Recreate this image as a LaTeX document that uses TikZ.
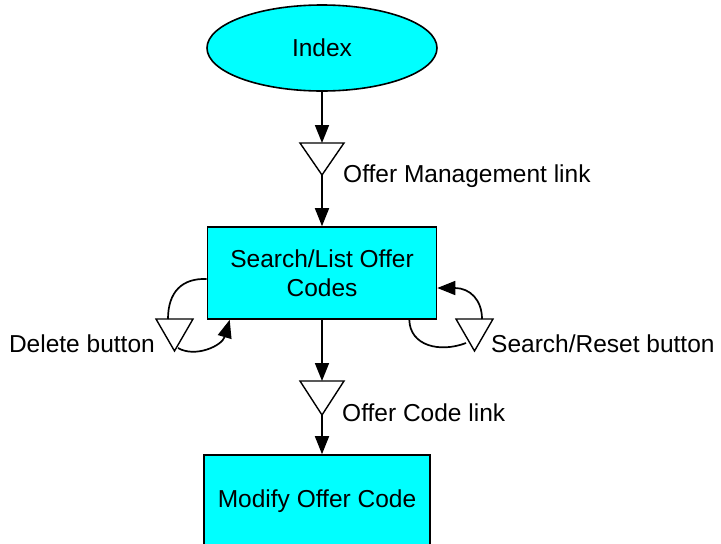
\documentclass[tikz,border=0pt]{standalone}
\usepackage{fontspec}
\setmainfont{Liberation Sans}
\usetikzlibrary{shapes.geometric,arrows.meta}
\definecolor{aqua}{RGB}{0,255,255}
\begin{document}
\begin{tikzpicture}[x=1pt,y=-1pt,
  every node/.style={font=\fontsize{24.5}{29}\selectfont},
  pagebox/.style={draw=black, line width=1.6pt, fill=aqua, inner sep=0pt, align=center},
  startnode/.style={ellipse, draw=black, line width=1.6pt, fill=aqua, inner sep=0pt},
  trihold/.style={inner sep=0pt, outer sep=0pt},
  tri/.style={draw=black, line width=1.4pt, line join=miter, fill=white},
  lbl/.style={inner sep=0pt},
  conn/.style={draw=black, line width=1.7pt},
  arr/.style={conn, -{Triangle[length=18pt,width=14pt]}}
]
\useasboundingbox (0,0) rectangle (721,544);

% nodes
\node[startnode, minimum width=230pt, minimum height=86pt] (index) at (322,48) {Index};
\node[pagebox, minimum width=229pt, minimum height=92pt] (search) at (322,273) {Search/List Offer\\Codes};
\node[pagebox, minimum width=226pt, minimum height=92pt] (modify) at (317,501) {Modify Offer Code};

% triangle holders
\node[trihold, minimum width=44pt, minimum height=32pt] (t1) at (322,159) {};
\node[trihold, minimum width=44pt, minimum height=34pt] (t2) at (322,398) {};
\node[trihold, minimum width=37pt, minimum height=32pt] (t3) at (174.5,335) {};
\node[trihold, minimum width=37pt, minimum height=32pt] (t4) at (474.5,335) {};

\foreach \t in {t1,t2,t3,t4}{
  \draw[tri] (\t.north west) -- (\t.north east) -- (\t.south) -- cycle;
}

% labels
\node[lbl, anchor=base west] (l1) at (343,182) {Offer Management link};
\node[lbl, anchor=base west] (l2) at (342,421) {Offer Code link};
\node[lbl, anchor=base east] (l3) at (155,352) {Delete button};
\node[lbl, anchor=base west] (l4) at (491,352) {Search/Reset button};

% main flow
\draw[arr] (index.south) -- (t1.north);
\draw[arr] (t1.south) -- (search.north);
\draw[arr] (search.south) -- (t2.north);
\draw[arr] (t2.south) -- (t2.south |- modify.north);

% delete loop
\coordinate (dOut) at ([yshift=-6pt]search.west);
\coordinate (dIn) at ([xshift=-6.5pt]t3.north);
\coordinate (dBack) at ([xshift=3.5pt,yshift=3pt]t3.south);
\coordinate (dTip) at ([xshift=23pt]search.south west);
\draw[conn] (dOut) .. controls (182,278) and (168,292) .. (dIn);
\draw[arr] (dBack) .. controls (195,358) and (222,346) .. (dTip);

% search/reset loop
\coordinate (sOut) at ([xshift=-28pt]search.south east);
\coordinate (sIn) at (466,343);
\coordinate (sBack) at ([xshift=7.5pt]t4.north);
\coordinate (sTip) at ([yshift=-15pt]search.east);
\draw[conn] (sOut) .. controls (410,346) and (440,353) .. (sIn);
\draw[arr] (sBack) .. controls (482,300) and (470,288) .. (sTip);

\end{tikzpicture}
\end{document}
